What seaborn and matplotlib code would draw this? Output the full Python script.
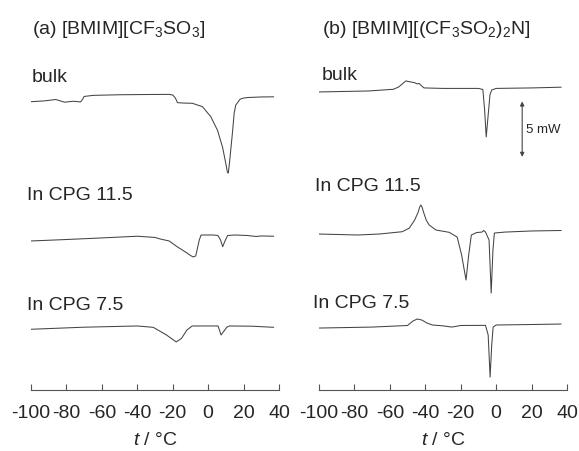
import matplotlib
matplotlib.use("Agg")
import matplotlib.pyplot as plt
import seaborn as sns
import pandas as pd

# DSC traces, heat flow in mW (zero = value at -100 C)
t_a_bulk = [-100, -93, -86, -81, -76, -72, -70.8, -70, -65, -50, -35, -22, -20, -18.5, -17.3, -14, -8.9,
            -3.2, 1.5, 5.3, 8.1, 10, 10.9, 11.4, 12.2, 13.7, 14.7, 15.6, 17, 18, 19.4, 22, 30, 37]
hf_a_bulk = [0, 0.06, 0.18, -0.04, 0.04, -0.02, 0.22, 0.43, 0.52, 0.57, 0.59, 0.60, 0.55, 0.30, -0.08, -0.11, -0.13,
             -0.41, -1.23, -2.35, -3.71, -5.08, -5.80, -5.85, -4.78, -2.58, -0.93, -0.27, 0.0, 0.20, 0.28, 0.34, 0.39, 0.40]

t_a_115 = [-100, -80, -60, -40, -30, -27, -22, -17.5, -12, -9.5, -8.5, -7, -6, -5, -4, -1, 3, 5.5,
           7, 8.2, 9.5, 11, 15, 22, 27, 30, 37]
hf_a_115 = [0, 0.12, 0.25, 0.39, 0.29, 0.16, 0, -0.47, -0.98, -1.23, -1.31, -1.23, -0.57, 0.08, 0.49, 0.49, 0.49, 0.45,
            0.08, -0.47, 0.0, 0.45, 0.49, 0.45, 0.37, 0.41, 0.39]

t_a_75 = [-100, -70, -40, -31, -23.5, -18, -15, -12, -9, 0, 5.6, 7.3, 10.5, 12, 25, 37]
hf_a_75 = [0, 0.17, 0.27, 0.16, -0.47, -1.04, -0.74, -0.06, 0.27, 0.27, 0.27, -0.47, 0.16, 0.27, 0.25, 0.16]

t_b_bulk = [-100, -72, -58, -55, -51, -46, -44.6, -43.5, -42, -40.7, -30, -10, -7.5, -6.5, -5.6, -4.5, -3.5,
            -2.5, 0, 20, 36.7]
hf_b_bulk = [0, 0.08, 0.22, 0.41, 0.90, 0.76, 0.66, 0.70, 0.49, 0.33, 0.29, 0.29, 0.20, -1.48, -3.69, -1.89, -0.25,
             0.16, 0.29, 0.33, 0.39]

t_b_115 = [-100, -78, -66, -53, -49, -46, -44, -43.2, -42.5, -41.8, -41, -39.5, -37.8, -34, -26.5, -22, -19.5, -17,
           -15.5, -14, -11, -8, -7, -6, -4, -2.8, -1.8, -1, 5, 20, 36.7]
hf_b_115 = [0, -0.08, 0, 0.19, 0.49, 1.15, 1.80, 2.20, 2.38, 2.20, 1.80, 1.15, 0.74, 0.33, 0.14, -0.25, -1.72, -3.77,
            -1.72, -0.08, 0.12, 0.16, 0.29, 0.16, -0.49, -4.84, -1.31, 0.08, 0.16, 0.25, 0.29]

t_b_75 = [-100, -70, -50, -47, -44.6, -42, -39, -36, -30, -25, -20, -6, -4.5, -3.4, -2.5, -1.7, 0, 20, 36.7]
hf_b_75 = [0, 0.08, 0.21, 0.57, 0.74, 0.66, 0.41, 0.25, 0.18, 0.08, 0.21, 0.22, -0.57, -4.02, -1.39, 0.08, 0.25,
           0.29, 0.33]

# vertical shift of each trace (mW)
offsets = {"bulk": 23.64, "11.5": 12.22, "7.5": 4.98}
offsets_b = {"bulk": 24.44, "11.5": 12.79, "7.5": 5.08}

titles = [r"(a) [BMIM][CF$_3$SO$_3$]", r"(b) [BMIM][(CF$_3$SO$_2$)$_2$N]"]
xticks = [-100, -80, -60, -40, -20, 0, 20, 40]

sns.set_style("ticks")
plt.rcParams["font.family"] = ["Liberation Sans", "DejaVu Sans"]
plt.rcParams["mathtext.fontset"] = "custom"
plt.rcParams["mathtext.rm"] = "Liberation Sans"
plt.rcParams["mathtext.it"] = "Liberation Sans:italic"
plt.rcParams["axes.unicode_minus"] = False

W, H = 579, 451
fig = plt.figure(figsize=(W / 100, H / 100), dpi=100)
ax_a = fig.add_axes([31 / W, 61 / H, 248 / W, 330 / H])
ax_b = fig.add_axes([319 / W, 61 / H, 248 / W, 330 / H])

traces_a = [(t_a_bulk, hf_a_bulk, offsets["bulk"]), (t_a_115, hf_a_115, offsets["11.5"]),
            (t_a_75, hf_a_75, offsets["7.5"])]
traces_b = [(t_b_bulk, hf_b_bulk, offsets_b["bulk"]), (t_b_115, hf_b_115, offsets_b["11.5"]),
            (t_b_75, hf_b_75, offsets_b["7.5"])]

for ax, traces in [(ax_a, traces_a), (ax_b, traces_b)]:
    for t, hf, off in traces:
        df = pd.DataFrame({"t": t, "hf": [v + off for v in hf]})
        sns.lineplot(data=df, x="t", y="hf", ax=ax, color="#444444", lw=0.75, sort=False)
    ax.set_xlim(-100, 40)
    ax.set_ylim(0, 330 * 0.082)
    ax.set_xticks(xticks)
    ax.set_xticklabels([str(v) for v in xticks], fontsize=14)
    ax.tick_params(axis="x", direction="in", length=4, width=0.8, color="#555555", pad=11)
    ax.set_yticks([])
    ax.set_ylabel("")
    ax.set_xlabel("$t$ / °C", fontsize=14, labelpad=7)
    for s in ["left", "top", "right"]:
        ax.spines[s].set_visible(False)
    ax.spines["bottom"].set_color("#555555")
    ax.spines["bottom"].set_linewidth(0.8)
    ax.patch.set_alpha(0)

# 5 mW scale bar
ax_b.annotate("", xy=(14.7, offsets_b["bulk"] - 0.55), xytext=(14.7, offsets_b["bulk"] - 5.55),
              arrowprops=dict(arrowstyle="<|-|>", color="#444444", lw=0.8, mutation_scale=6))
ax_b.text(17, offsets_b["bulk"] - 3.1, "5 mW", fontsize=9.5, va="center")


def label(x, y, s, size=14):
    fig.text(x / W, 1 - y / H, s, fontsize=size, va="center", ha="left")


label(32, 29, titles[0])
label(322, 29, titles[1])
label(32, 77, "bulk")
label(322, 75, "bulk")
label(27, 195, "In CPG 11.5")
label(315, 187, "In CPG 11.5")
label(27, 306, "In CPG 7.5")
label(313, 303, "In CPG 7.5")

fig.savefig("out.png", dpi=100)
